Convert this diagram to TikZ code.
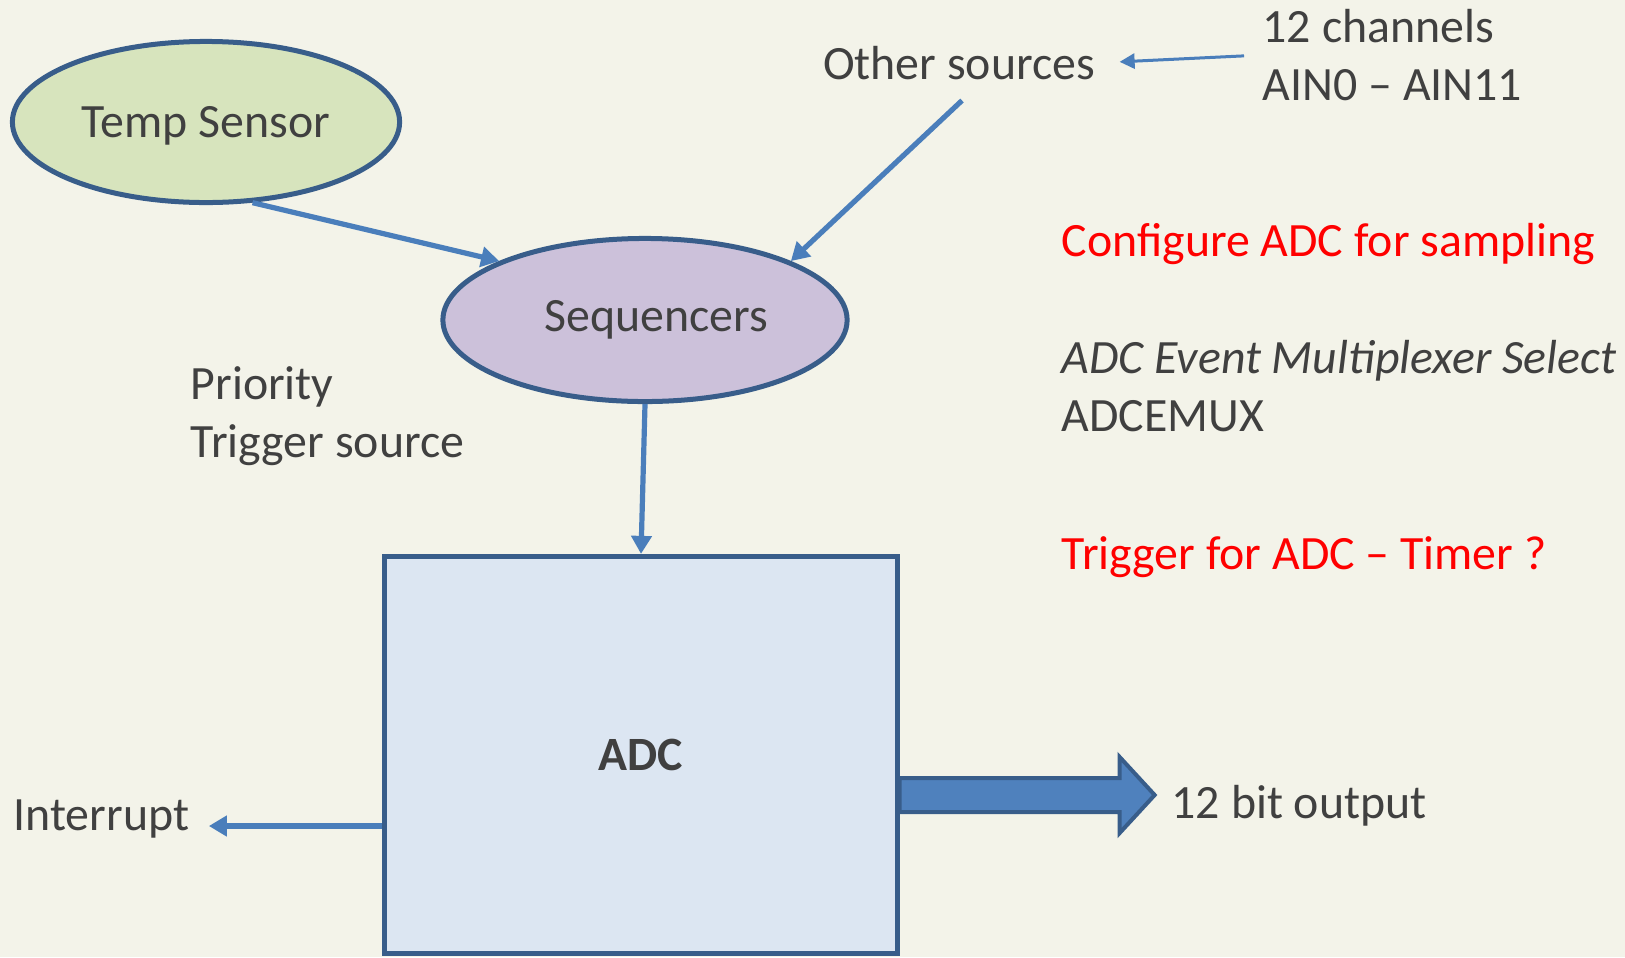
\documentclass[tikz,border=0pt]{standalone}
\usepackage{fontspec}
\setmainfont{Carlito}
\usepackage{tikz}
\usetikzlibrary{calc,arrows.meta,shapes.geometric}

\definecolor{bgcol}{RGB}{243,243,233}
\definecolor{edgecol}{HTML}{385D8A}
\definecolor{linecol}{HTML}{4A7EBB}
\definecolor{bigcol}{HTML}{4F81BD}
\definecolor{greenfill}{HTML}{D7E4BD}
\definecolor{lilacfill}{HTML}{CCC1DA}
\definecolor{bluefill}{HTML}{DCE6F2}
\definecolor{txtcol}{HTML}{404040}

\tikzset{
  blob/.style={ellipse, draw=edgecol, line width=0.05cm, inner sep=0pt, text=txtcol},
  label/.style={inner sep=0pt, text=txtcol, align=left},
  note/.style={label, text=red},
  arr/.style={draw=linecol, line width=0.052cm, -{Triangle[length=0.18cm,width=0.2cm]}},
  thinarr/.style={draw=linecol, line width=0.03cm, -{Triangle[length=0.15cm,width=0.15cm]}},
  bigarrow/.style={fill=bigcol, draw=edgecol, line width=0.04cm}
}

\begin{document}
\begin{tikzpicture}[x=0.01cm,y=-0.01cm,font=\fontsize{13.6}{16.4}\selectfont]
% one unit is one pixel of the slide, y going down
\fill[bgcol] (0,0) rectangle (1625,957);
\useasboundingbox (0,0) rectangle (1625,957);

\node[blob, fill=greenfill, minimum width=3.87cm, minimum height=1.61cm, text depth=0pt] (temp) at (206,122) {Temp Sensor};
\node[blob, fill=lilacfill, minimum width=4.04cm, minimum height=1.63cm] (seq) at (645,320) {\hspace*{0.22cm}Sequencers};
\node[draw=edgecol, fill=bluefill, line width=0.05cm, minimum width=5.12cm, minimum height=3.97cm,
      text=txtcol, font=\fontsize{13.6}{16.4}\selectfont\bfseries] (adc) at (641,755) {\raisebox{-0.03cm}{ADC}};

\node[label] (other) at (959,63) {Other sources};
\node[label, anchor=west] (chan) at (1262,55) {12 channels\\AIN0 – AIN11};
\node[label, anchor=west] (prio) at (190,416) {Priority\\Trigger source};
\node[note, anchor=west] (config) at (1061,244) {Configure ADC for sampling};
\node[label, anchor=west] (emux) at (1061,386) {\itshape ADC Event Multiplexer Select\\ADCEMUX};
\node[note, anchor=west] (trig) at (1061,557) {Trigger for ADC – Timer ?};
\node[label, anchor=west] (intr) at (13,819) {Interrupt};
\node[label, anchor=west] (out) at (1171,806) {12 bit output};

% inputs of the sequencers
\draw[arr] (temp.-60) -- (seq.158);
\draw[arr] ($(other.south)+(3,20)$) -- (seq.22);
\draw[thinarr, shorten <=0.18cm, shorten >=0.24cm] (chan.west) -- (other.east);
\draw[arr] (seq.south) -- (adc.north);

% outputs of the adc
\coordinate (intport) at ($(adc.west)+(0,71)$);
\draw[arr, shorten >=0.19cm] (intport) -- (intport -| intr.east);
\coordinate (outport) at ($(adc.east)+(0,40)$);
\draw[bigarrow] ($(outport)+(0,-17)$) -- ($(outport)+(220,-17)$) -- ($(outport)+(220,-38)$)
  -- ($(outport)+(255,0)$) -- ($(outport)+(220,38)$) -- ($(outport)+(220,17)$) -- ($(outport)+(0,17)$) -- cycle;
\end{tikzpicture}
\end{document}
